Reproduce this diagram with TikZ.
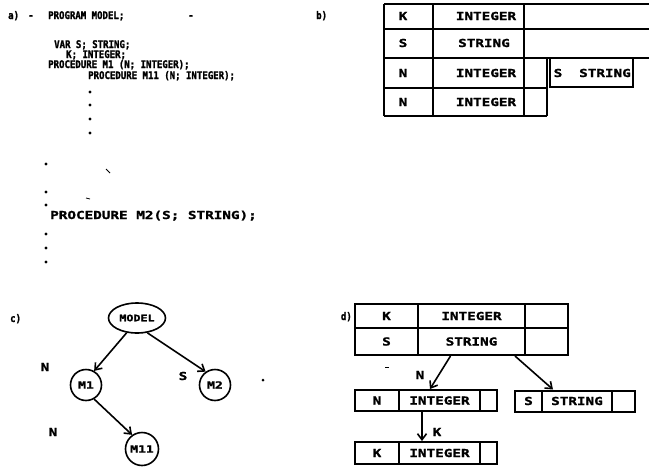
\documentclass[tikz,border=0pt]{standalone}
\usepackage{fontspec}
\newfontfamily\codefont[FakeStretch=0.86,FakeBold=1.6]{DejaVu Sans Mono}
\newfontfamily\widefont[FakeStretch=1.3,FakeBold=1.6]{DejaVu Sans Mono}
\usetikzlibrary{arrows.meta,shapes.geometric}

\tikzset{
  code/.style={anchor=base west,inner sep=0pt,font=\codefont\bfseries\fontsize{10.5}{11}\selectfont},
  wide/.style={inner sep=0pt,font=\widefont\bfseries\fontsize{11}{12}\selectfont},
  frame/.style={line width=2pt},
  cell/.style={draw,rectangle,line width=2pt,inner sep=0pt,font=\widefont\bfseries\fontsize{11}{12}\selectfont},
  proc/.style={draw,circle,line width=1.6pt,inner sep=0pt,font=\widefont\bfseries\fontsize{10}{12}\selectfont},
}

\begin{document}
\begin{tikzpicture}[x=1pt,y=-1pt,>={Straight Barb[length=6pt,width=9pt]}]
\useasboundingbox (0,0) rectangle (649,472);

% a) program text
\node[code] (la) at (8,19) {a)};
\node[code] (mk1) at (28,19) {-};
\node[code] (p0) at (48,19) {PROGRAM MODEL;};
\node[code] (mk2) at (188,19) {-};
\node[code] (p1) at (54,48) {VAR S; STRING;};
\node[code] (p2) at (66,58) {K; INTEGER;};
\node[code] (p3) at (48,68) {PROCEDURE M1 (N; INTEGER);};
\node[code] (p4) at (88,79) {PROCEDURE M11 (N; INTEGER);};
\foreach \y in {92,105,119,133} \fill (90,\y) circle (1.7);
\foreach \y in {164,192,205,234,248,262} \fill (46,\y) circle (1.7);
\draw[line width=0.8pt] (106,169) -- (110,173);
\draw[line width=0.8pt] (86,198) -- (90,199);
\node[wide,anchor=base west] (p5) at (50,219) {PROCEDURE M2(S; STRING);};

% b) stack of records
\node[code] (lb) at (316,19) {b)};
\draw[frame] (384,4) -- (649,4);
\draw[frame] (384,29) -- (649,29);
\draw[frame] (384,58) -- (649,58);
\draw[frame] (384,88) -- (547,88);
\draw[frame] (384,116) -- (547,116);
\draw[frame] (384,4) -- (384,116);
\draw[frame] (433,4) -- (433,116);
\draw[frame] (524,4) -- (524,116);
\draw[frame] (547,58) -- (547,116);
\draw[frame] (550,58) rectangle (633,87);
\node[wide] (bK) at (403,16) {K};
\node[wide] (bKt) at (486,16) {INTEGER};
\node[wide] (bS) at (403,43) {S};
\node[wide] (bSt) at (484,43) {STRING};
\node[wide] (bN) at (403,73) {N};
\node[wide] (bNt) at (486,73) {INTEGER};
\node[wide] (bS2) at (558,73) {S};
\node[wide] (bS2t) at (605,73) {STRING};
\node[wide] (bN2) at (403,102) {N};
\node[wide] (bN2t) at (486,102) {INTEGER};

% c) procedure tree
\node[code] (lc) at (10,322) {c)};
\node[draw,ellipse,line width=1.6pt,inner sep=0pt,minimum width=57pt,minimum height=30pt,
  font=\widefont\bfseries\fontsize{9}{10}\selectfont] (model) at (137,318) {MODEL};
\node[proc,minimum size=31pt] (m1) at (86,385) {M1};
\node[proc,minimum size=31pt] (m2) at (215,385) {M2};
\node[proc,minimum size=33pt] (m11) at (142,449) {M11};
\draw[->,line width=1.6pt] (model.235) -- (m1.60);
\draw[->,line width=1.6pt] (model.-55) -- (m2.125);
\draw[->,line width=1.6pt] (m1.-60) -- (m11.125);
\node[wide] (cn1) at (45,367) {N};
\node[wide] (cs) at (183,376) {S};
\node[wide] (cn2) at (53,432) {N};
\fill (263,380) circle (1.5);

% d) linked records
\node[code,anchor=base east] (ld) at (352,320) {d)};
\node[cell,minimum width=63pt,minimum height=24pt] (dK) at (386.5,316) {K};
\node[cell,minimum width=107pt,minimum height=24pt] (dI) at (471.5,316) {INTEGER};
\node[cell,minimum width=43pt,minimum height=24pt] (dE1) at (546.5,316) {};
\node[cell,minimum width=63pt,minimum height=27pt] (dS) at (386.5,341.5) {S};
\node[cell,minimum width=107pt,minimum height=27pt] (dStr) at (471.5,341.5) {STRING};
\node[cell,minimum width=43pt,minimum height=27pt] (dE2) at (546.5,341.5) {};
\node[cell,minimum width=44pt,minimum height=21pt] (mN) at (377,400.5) {N};
\node[cell,minimum width=81pt,minimum height=21pt] (mI) at (439.5,400.5) {INTEGER};
\node[cell,minimum width=17pt,minimum height=21pt] (mE) at (488.5,400.5) {};
\node[cell,minimum width=27pt,minimum height=21pt] (rS) at (528.5,401) {S};
\node[cell,minimum width=70pt,minimum height=21pt] (rStr) at (577,401) {STRING};
\node[cell,minimum width=23pt,minimum height=21pt] (rE) at (623.5,401) {};
\node[cell,minimum width=44pt,minimum height=22pt] (kK) at (377,453) {K};
\node[cell,minimum width=81pt,minimum height=22pt] (kI) at (439.5,453) {INTEGER};
\node[cell,minimum width=17pt,minimum height=22pt] (kE) at (488.5,453) {};
\draw[->,line width=1.6pt] ([xshift=-21pt]dStr.south) -- ([xshift=-9.5pt]mI.north);
\draw[->,line width=1.6pt] ([xshift=43.5pt]dStr.south) -- ([xshift=-24pt]rStr.north);
\draw[->,line width=1.6pt] ([xshift=-17.5pt]mI.south) -- ([xshift=-17.5pt]kI.north);
\node[wide] (dn) at (420,375) {N};
\node[wide] (dk) at (437,432) {K};
\draw[line width=1pt] (385,367) -- (389,367);
\end{tikzpicture}
\end{document}
